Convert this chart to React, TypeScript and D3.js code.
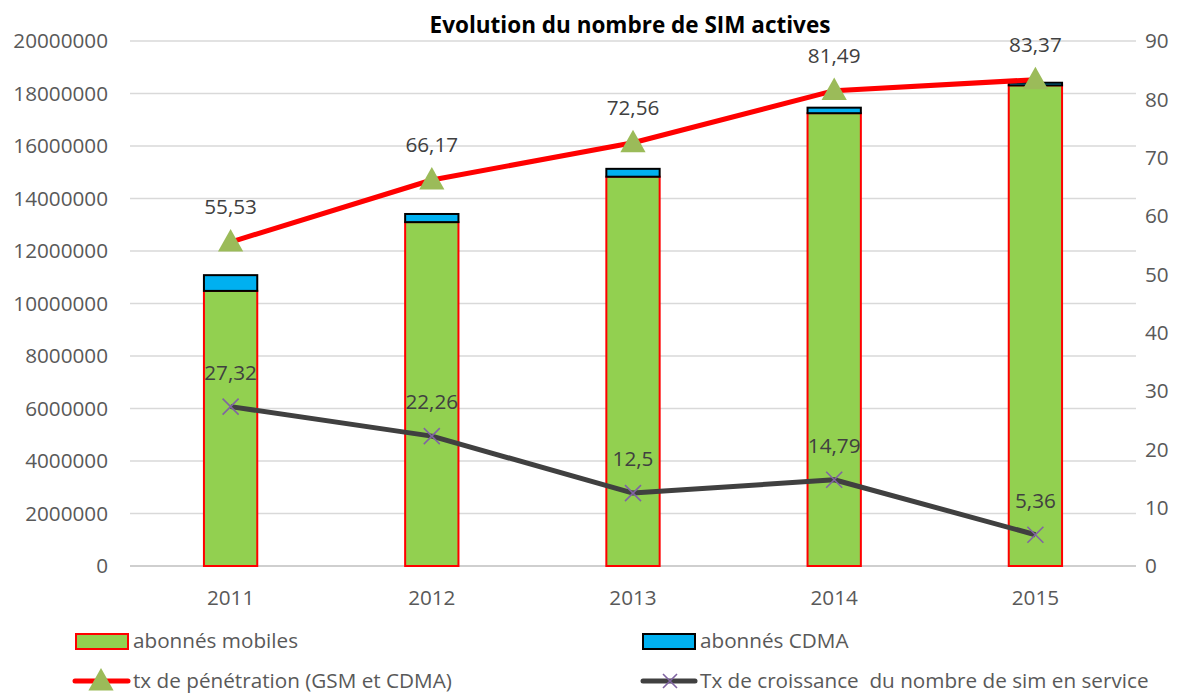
import React from 'react';
import * as d3 from 'd3';

const years = ['2011', '2012', '2013', '2014', '2015'];
const abonnesMobiles = [10480000, 13100000, 14830000, 17250000, 18310000];
const abonnesCDMA = [600000, 310000, 300000, 210000, 100000];
const txPenetration = [55.53, 66.17, 72.56, 81.49, 83.37];
const txCroissance = [27.32, 22.26, 12.5, 14.79, 5.36];
const leftTicks = [0, 2000000, 4000000, 6000000, 8000000, 10000000, 12000000, 14000000, 16000000, 18000000, 20000000];
const rightTicks = [0, 10, 20, 30, 40, 50, 60, 70, 80, 90];

const W = 1195;
const H = 693;
const FONT = '"Open Sans", Lato, sans-serif';
const FS = 20.7;
const margin = { top: 41, right: 59, bottom: 127, left: 130 };
const TEXT = '#595959';
const LABEL = '#404040';
const fmt = (v: number) => String(v).replace('.', ',');

function Triangle({ x, y, s }: { x: number; y: number; s: number }) {
  return <path d={`M${x},${y - s * 0.62}L${x + s * 0.6},${y + s * 0.45}L${x - s * 0.6},${y + s * 0.45}Z`} fill="#9bbb59" />;
}

function Cross({ x, y, s }: { x: number; y: number; s: number }) {
  return (
    <path d={`M${x - s},${y - s}L${x + s},${y + s}M${x - s},${y + s}L${x + s},${y - s}`} stroke="#8064a2" strokeWidth={1.6} />
  );
}

export default function App() {
  const innerW = W - margin.left - margin.right;
  const x = d3.scaleBand().domain(years).range([margin.left, margin.left + innerW]).paddingInner(0.735).paddingOuter(0.3675);
  const y = d3.scaleLinear().domain([0, 20000000]).range([566, 41]);
  const y2 = d3.scaleLinear().domain([0, 90]).range([566, 41]);
  const cx = (d: string) => (x(d) as number) + x.bandwidth() / 2;

  const line = d3.line<number>().x((_, i) => cx(years[i])).y((v) => y2(v));

  return (
    <svg width={W} height={H} style={{ position: 'absolute', left: 0, top: 0, background: '#fff' }} fontFamily={FONT}>
      <text x={630} y={33} textAnchor="middle" fontWeight={700} fontSize={22.5} fill="#000">
        Evolution du nombre de SIM actives
      </text>
      {leftTicks.map((t) => (
        <g key={t}>
          <line x1={margin.left} x2={1136} y1={y(t)} y2={y(t)} stroke={t === 0 ? '#bfbfbf' : '#d9d9d9'} strokeWidth={1.5} />
          <text x={108} y={y(t)} dy="0.35em" textAnchor="end" fontSize={FS} fill={TEXT}>{t}</text>
        </g>
      ))}
      {rightTicks.map((t) => (
        <text key={t} x={1145} y={y2(t)} dy="0.35em" textAnchor="start" fontSize={FS} fill={TEXT}>{t}</text>
      ))}
      {years.map((yr) => (
        <text key={yr} x={cx(yr)} y={598} dy="0.35em" textAnchor="middle" fontSize={FS} fill={TEXT}>{yr}</text>
      ))}
      {years.map((yr, i) => {
        const g = abonnesMobiles[i];
        const c = abonnesCDMA[i];
        return (
          <g key={yr}>
            <rect x={x(yr)} y={y(g)} width={x.bandwidth()} height={y(0) - y(g)} fill="#92d050" stroke="#ff0000" strokeWidth={2} />
            <rect x={x(yr)} y={y(g + c)} width={x.bandwidth()} height={y(g) - y(g + c)} fill="#00b0f0" stroke="#000" strokeWidth={2} />
          </g>
        );
      })}
      <path d={line(txPenetration) || ''} fill="none" stroke="#ff0000" strokeWidth={5} strokeLinejoin="round" />
      <path d={line(txCroissance) || ''} fill="none" stroke="#404040" strokeWidth={5} strokeLinejoin="round" />
      {years.map((yr, i) => (
        <g key={yr}>
          <Triangle x={cx(yr)} y={y2(txPenetration[i])} s={21} />
          <text x={cx(yr)} y={y2(txPenetration[i]) - 35} dy="0.35em" textAnchor="middle" fontSize={FS} fill={LABEL}>{fmt(txPenetration[i])}</text>
          <Cross x={cx(yr)} y={y2(txCroissance[i])} s={8} />
          <text x={cx(yr)} y={y2(txCroissance[i]) - 34} dy="0.35em" textAnchor="middle" fontSize={FS} fill={LABEL}>{fmt(txCroissance[i])}</text>
        </g>
      ))}
      {/* legend */}
      <g fontSize={FS} fill={TEXT}>
        <rect x={76} y={634} width={52} height={15} fill="#92d050" stroke="#ff0000" strokeWidth={2} />
        <text x={133} y={641} dy="0.35em">abonnés mobiles</text>
        <rect x={643} y={634} width={52} height={15} fill="#00b0f0" stroke="#000" strokeWidth={2} />
        <text x={700} y={641} dy="0.35em">abonnés CDMA</text>
        <line x1={75} x2={128} y1={681} y2={681} stroke="#ff0000" strokeWidth={5} strokeLinecap="round" />
        <Triangle x={101} y={681} s={21} />
        <text x={133} y={681} dy="0.35em">tx de pénétration (GSM et CDMA)</text>
        <line x1={643} x2={695} y1={681} y2={681} stroke="#404040" strokeWidth={5} strokeLinecap="round" />
        <Cross x={670} y={681} s={7} />
        <text x={700} y={681} dy="0.35em" style={{ whiteSpace: 'pre' }}>Tx de croissance  du nombre de sim en service</text>
      </g>
    </svg>
  );
}
